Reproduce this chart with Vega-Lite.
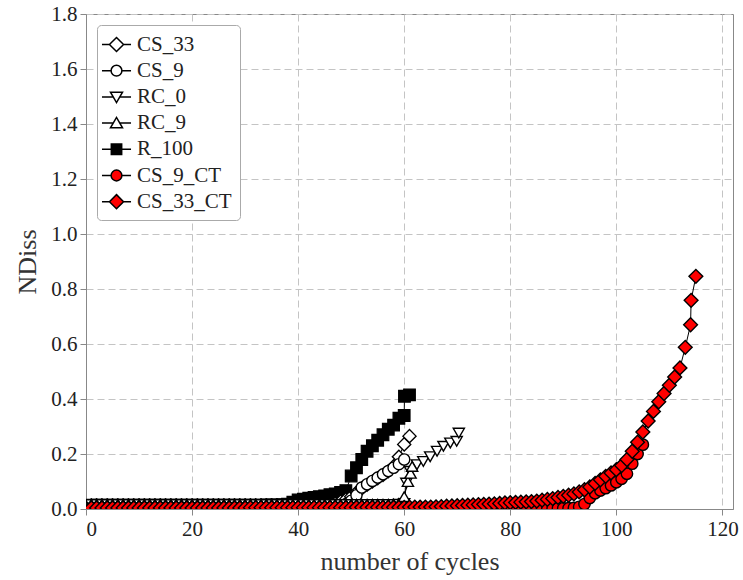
{
"$schema":"https://vega.github.io/schema/vega-lite/v6.json",
"width":647,"height":495,
"autosize":{"type":"none"},
"padding":{"left":86,"top":14,"right":10,"bottom":71},
"background":"white",
"config":{
"view":{"stroke":"#888","strokeWidth":1},
"font":"Liberation Serif",
"axis":{"labelFont":"Liberation Serif","labelFontSize":21,"labelColor":"#222","titleFont":"Liberation Serif","titleFontSize":26,"titleFontWeight":"normal","titleColor":"#333","grid":true,"gridDash":[7,4],"gridColor":"#c4c4c4","gridWidth":1,"domainColor":"#888","tickColor":"#888","tickSize":6,"labelPadding":3},
"legend":{"orient":"top-left","offset":11,"padding":8,"symbolSize":430,"labelFont":"Liberation Serif","labelFontSize":21,"labelColor":"#222","labelOffset":9,"rowPadding":4.2,"fillColor":"white","strokeColor":"#aaa","cornerRadius":4}
},
"data":{"values":[
{"s":"R_100","x":1,"y":0.014},{"s":"R_100","x":2,"y":0.014},{"s":"R_100","x":3,"y":0.014},{"s":"R_100","x":4,"y":0.014},{"s":"R_100","x":5,"y":0.014},{"s":"R_100","x":6,"y":0.014},{"s":"R_100","x":7,"y":0.014},{"s":"R_100","x":8,"y":0.014},{"s":"R_100","x":9,"y":0.014},{"s":"R_100","x":10,"y":0.014},
{"s":"R_100","x":11,"y":0.014},{"s":"R_100","x":12,"y":0.014},{"s":"R_100","x":13,"y":0.014},{"s":"R_100","x":14,"y":0.014},{"s":"R_100","x":15,"y":0.014},{"s":"R_100","x":16,"y":0.014},{"s":"R_100","x":17,"y":0.014},{"s":"R_100","x":18,"y":0.014},{"s":"R_100","x":19,"y":0.014},{"s":"R_100","x":20,"y":0.014},
{"s":"R_100","x":21,"y":0.014},{"s":"R_100","x":22,"y":0.014},{"s":"R_100","x":23,"y":0.014},{"s":"R_100","x":24,"y":0.014},{"s":"R_100","x":25,"y":0.014},{"s":"R_100","x":26,"y":0.014},{"s":"R_100","x":27,"y":0.014},{"s":"R_100","x":28,"y":0.014},{"s":"R_100","x":29,"y":0.014},{"s":"R_100","x":30,"y":0.014},
{"s":"R_100","x":31,"y":0.014},{"s":"R_100","x":32,"y":0.014},{"s":"R_100","x":33,"y":0.014},{"s":"R_100","x":34,"y":0.015},{"s":"R_100","x":35,"y":0.015},{"s":"R_100","x":36,"y":0.015},{"s":"R_100","x":37,"y":0.016},{"s":"R_100","x":38,"y":0.018},{"s":"R_100","x":39,"y":0.025},{"s":"R_100","x":40,"y":0.033},
{"s":"R_100","x":41,"y":0.036},{"s":"R_100","x":42,"y":0.039},{"s":"R_100","x":43,"y":0.042},{"s":"R_100","x":44,"y":0.045},{"s":"R_100","x":45,"y":0.048},{"s":"R_100","x":46,"y":0.052},{"s":"R_100","x":47,"y":0.055},{"s":"R_100","x":48,"y":0.06},{"s":"R_100","x":49,"y":0.067},{"s":"R_100","x":50,"y":0.12},
{"s":"R_100","x":51,"y":0.15},{"s":"R_100","x":52,"y":0.18},{"s":"R_100","x":53,"y":0.21},{"s":"R_100","x":54,"y":0.23},{"s":"R_100","x":55,"y":0.25},{"s":"R_100","x":56,"y":0.27},{"s":"R_100","x":57,"y":0.29},{"s":"R_100","x":58,"y":0.305},{"s":"R_100","x":59,"y":0.33},{"s":"R_100","x":60,"y":0.34},
{"s":"R_100","x":60.05,"y":0.41},{"s":"R_100","x":61,"y":0.415},

{"s":"CS_33","x":1,"y":0.013},{"s":"CS_33","x":2,"y":0.013},{"s":"CS_33","x":3,"y":0.013},{"s":"CS_33","x":4,"y":0.013},{"s":"CS_33","x":5,"y":0.013},{"s":"CS_33","x":6,"y":0.013},{"s":"CS_33","x":7,"y":0.013},{"s":"CS_33","x":8,"y":0.013},{"s":"CS_33","x":9,"y":0.013},{"s":"CS_33","x":10,"y":0.013},
{"s":"CS_33","x":11,"y":0.013},{"s":"CS_33","x":12,"y":0.013},{"s":"CS_33","x":13,"y":0.013},{"s":"CS_33","x":14,"y":0.013},{"s":"CS_33","x":15,"y":0.013},{"s":"CS_33","x":16,"y":0.013},{"s":"CS_33","x":17,"y":0.013},{"s":"CS_33","x":18,"y":0.013},{"s":"CS_33","x":19,"y":0.013},{"s":"CS_33","x":20,"y":0.013},
{"s":"CS_33","x":21,"y":0.013},{"s":"CS_33","x":22,"y":0.013},{"s":"CS_33","x":23,"y":0.013},{"s":"CS_33","x":24,"y":0.013},{"s":"CS_33","x":25,"y":0.013},{"s":"CS_33","x":26,"y":0.013},{"s":"CS_33","x":27,"y":0.013},{"s":"CS_33","x":28,"y":0.013},{"s":"CS_33","x":29,"y":0.013},{"s":"CS_33","x":30,"y":0.013},
{"s":"CS_33","x":31,"y":0.013},{"s":"CS_33","x":32,"y":0.013},{"s":"CS_33","x":33,"y":0.013},{"s":"CS_33","x":34,"y":0.013},{"s":"CS_33","x":35,"y":0.013},{"s":"CS_33","x":36,"y":0.013},{"s":"CS_33","x":37,"y":0.013},{"s":"CS_33","x":38,"y":0.013},{"s":"CS_33","x":39,"y":0.013},{"s":"CS_33","x":40,"y":0.013},
{"s":"CS_33","x":41,"y":0.013},{"s":"CS_33","x":42,"y":0.013},{"s":"CS_33","x":43,"y":0.013},{"s":"CS_33","x":44,"y":0.013},{"s":"CS_33","x":45,"y":0.013},{"s":"CS_33","x":46,"y":0.016},{"s":"CS_33","x":47,"y":0.02},{"s":"CS_33","x":48,"y":0.027},{"s":"CS_33","x":49,"y":0.035},{"s":"CS_33","x":50,"y":0.045},
{"s":"CS_33","x":51,"y":0.06},{"s":"CS_33","x":52,"y":0.075},{"s":"CS_33","x":53,"y":0.088},{"s":"CS_33","x":54,"y":0.1},{"s":"CS_33","x":55,"y":0.112},{"s":"CS_33","x":56,"y":0.124},{"s":"CS_33","x":57,"y":0.137},{"s":"CS_33","x":58,"y":0.155},{"s":"CS_33","x":59,"y":0.19},{"s":"CS_33","x":60,"y":0.235},
{"s":"CS_33","x":61,"y":0.265},

{"s":"CS_9","x":1,"y":0.012},{"s":"CS_9","x":2,"y":0.012},{"s":"CS_9","x":3,"y":0.012},{"s":"CS_9","x":4,"y":0.012},{"s":"CS_9","x":5,"y":0.012},{"s":"CS_9","x":6,"y":0.012},{"s":"CS_9","x":7,"y":0.012},{"s":"CS_9","x":8,"y":0.012},{"s":"CS_9","x":9,"y":0.012},{"s":"CS_9","x":10,"y":0.012},
{"s":"CS_9","x":11,"y":0.012},{"s":"CS_9","x":12,"y":0.012},{"s":"CS_9","x":13,"y":0.012},{"s":"CS_9","x":14,"y":0.012},{"s":"CS_9","x":15,"y":0.012},{"s":"CS_9","x":16,"y":0.012},{"s":"CS_9","x":17,"y":0.012},{"s":"CS_9","x":18,"y":0.012},{"s":"CS_9","x":19,"y":0.012},{"s":"CS_9","x":20,"y":0.012},
{"s":"CS_9","x":21,"y":0.012},{"s":"CS_9","x":22,"y":0.012},{"s":"CS_9","x":23,"y":0.012},{"s":"CS_9","x":24,"y":0.012},{"s":"CS_9","x":25,"y":0.012},{"s":"CS_9","x":26,"y":0.012},{"s":"CS_9","x":27,"y":0.012},{"s":"CS_9","x":28,"y":0.012},{"s":"CS_9","x":29,"y":0.012},{"s":"CS_9","x":30,"y":0.012},
{"s":"CS_9","x":31,"y":0.012},{"s":"CS_9","x":32,"y":0.012},{"s":"CS_9","x":33,"y":0.012},{"s":"CS_9","x":34,"y":0.012},{"s":"CS_9","x":35,"y":0.012},{"s":"CS_9","x":36,"y":0.012},{"s":"CS_9","x":37,"y":0.012},{"s":"CS_9","x":38,"y":0.012},{"s":"CS_9","x":39,"y":0.012},{"s":"CS_9","x":40,"y":0.012},
{"s":"CS_9","x":41,"y":0.012},{"s":"CS_9","x":42,"y":0.012},{"s":"CS_9","x":43,"y":0.012},{"s":"CS_9","x":44,"y":0.012},{"s":"CS_9","x":45,"y":0.012},{"s":"CS_9","x":46,"y":0.012},{"s":"CS_9","x":47,"y":0.012},{"s":"CS_9","x":48,"y":0.013},{"s":"CS_9","x":49,"y":0.018},{"s":"CS_9","x":50,"y":0.03},
{"s":"CS_9","x":51,"y":0.05},{"s":"CS_9","x":52,"y":0.078},{"s":"CS_9","x":53,"y":0.09},{"s":"CS_9","x":54,"y":0.102},{"s":"CS_9","x":55,"y":0.114},{"s":"CS_9","x":56,"y":0.126},{"s":"CS_9","x":57,"y":0.138},{"s":"CS_9","x":58,"y":0.15},{"s":"CS_9","x":59,"y":0.163},{"s":"CS_9","x":60,"y":0.18},

{"s":"RC_0","x":1,"y":0.016},{"s":"RC_0","x":2,"y":0.016},{"s":"RC_0","x":3,"y":0.016},{"s":"RC_0","x":4,"y":0.016},{"s":"RC_0","x":5,"y":0.016},{"s":"RC_0","x":6,"y":0.016},{"s":"RC_0","x":7,"y":0.016},{"s":"RC_0","x":8,"y":0.016},{"s":"RC_0","x":9,"y":0.016},{"s":"RC_0","x":10,"y":0.016},
{"s":"RC_0","x":11,"y":0.016},{"s":"RC_0","x":12,"y":0.016},{"s":"RC_0","x":13,"y":0.016},{"s":"RC_0","x":14,"y":0.016},{"s":"RC_0","x":15,"y":0.016},{"s":"RC_0","x":16,"y":0.016},{"s":"RC_0","x":17,"y":0.016},{"s":"RC_0","x":18,"y":0.016},{"s":"RC_0","x":19,"y":0.016},{"s":"RC_0","x":20,"y":0.016},
{"s":"RC_0","x":21,"y":0.016},{"s":"RC_0","x":22,"y":0.016},{"s":"RC_0","x":23,"y":0.016},{"s":"RC_0","x":24,"y":0.016},{"s":"RC_0","x":25,"y":0.016},{"s":"RC_0","x":26,"y":0.016},{"s":"RC_0","x":27,"y":0.016},{"s":"RC_0","x":28,"y":0.016},{"s":"RC_0","x":29,"y":0.016},{"s":"RC_0","x":30,"y":0.016},
{"s":"RC_0","x":31,"y":0.016},{"s":"RC_0","x":32,"y":0.016},{"s":"RC_0","x":33,"y":0.016},{"s":"RC_0","x":34,"y":0.016},{"s":"RC_0","x":35,"y":0.016},{"s":"RC_0","x":36,"y":0.016},{"s":"RC_0","x":37,"y":0.016},{"s":"RC_0","x":38,"y":0.016},{"s":"RC_0","x":39,"y":0.016},{"s":"RC_0","x":40,"y":0.016},
{"s":"RC_0","x":41,"y":0.016},{"s":"RC_0","x":42,"y":0.016},{"s":"RC_0","x":43,"y":0.016},{"s":"RC_0","x":44,"y":0.016},{"s":"RC_0","x":45,"y":0.016},{"s":"RC_0","x":46,"y":0.016},{"s":"RC_0","x":47,"y":0.016},{"s":"RC_0","x":48,"y":0.016},{"s":"RC_0","x":49,"y":0.016},{"s":"RC_0","x":50,"y":0.016},
{"s":"RC_0","x":51,"y":0.016},{"s":"RC_0","x":52,"y":0.016},{"s":"RC_0","x":53,"y":0.016},{"s":"RC_0","x":54,"y":0.016},{"s":"RC_0","x":55,"y":0.016},{"s":"RC_0","x":56,"y":0.016},{"s":"RC_0","x":57,"y":0.016},{"s":"RC_0","x":58,"y":0.016},{"s":"RC_0","x":59,"y":0.017},{"s":"RC_0","x":60,"y":0.02},
{"s":"RC_0","x":60.4,"y":0.094},{"s":"RC_0","x":61.1,"y":0.137},{"s":"RC_0","x":62.4,"y":0.161},{"s":"RC_0","x":63.6,"y":0.173},{"s":"RC_0","x":64.9,"y":0.19},{"s":"RC_0","x":66.2,"y":0.21},{"s":"RC_0","x":67.4,"y":0.228},{"s":"RC_0","x":68.7,"y":0.24},{"s":"RC_0","x":69.9,"y":0.246},{"s":"RC_0","x":70.3,"y":0.276},

{"s":"RC_9","x":1,"y":0.017},{"s":"RC_9","x":2,"y":0.017},{"s":"RC_9","x":3,"y":0.017},{"s":"RC_9","x":4,"y":0.017},{"s":"RC_9","x":5,"y":0.017},{"s":"RC_9","x":6,"y":0.017},{"s":"RC_9","x":7,"y":0.017},{"s":"RC_9","x":8,"y":0.017},{"s":"RC_9","x":9,"y":0.017},{"s":"RC_9","x":10,"y":0.017},
{"s":"RC_9","x":11,"y":0.017},{"s":"RC_9","x":12,"y":0.017},{"s":"RC_9","x":13,"y":0.017},{"s":"RC_9","x":14,"y":0.017},{"s":"RC_9","x":15,"y":0.017},{"s":"RC_9","x":16,"y":0.017},{"s":"RC_9","x":17,"y":0.017},{"s":"RC_9","x":18,"y":0.017},{"s":"RC_9","x":19,"y":0.017},{"s":"RC_9","x":20,"y":0.017},
{"s":"RC_9","x":21,"y":0.017},{"s":"RC_9","x":22,"y":0.017},{"s":"RC_9","x":23,"y":0.017},{"s":"RC_9","x":24,"y":0.017},{"s":"RC_9","x":25,"y":0.017},{"s":"RC_9","x":26,"y":0.017},{"s":"RC_9","x":27,"y":0.017},{"s":"RC_9","x":28,"y":0.017},{"s":"RC_9","x":29,"y":0.017},{"s":"RC_9","x":30,"y":0.017},
{"s":"RC_9","x":31,"y":0.017},{"s":"RC_9","x":32,"y":0.017},{"s":"RC_9","x":33,"y":0.017},{"s":"RC_9","x":34,"y":0.017},{"s":"RC_9","x":35,"y":0.017},{"s":"RC_9","x":36,"y":0.017},{"s":"RC_9","x":37,"y":0.017},{"s":"RC_9","x":38,"y":0.017},{"s":"RC_9","x":39,"y":0.017},{"s":"RC_9","x":40,"y":0.017},
{"s":"RC_9","x":41,"y":0.017},{"s":"RC_9","x":42,"y":0.017},{"s":"RC_9","x":43,"y":0.017},{"s":"RC_9","x":44,"y":0.017},{"s":"RC_9","x":45,"y":0.017},{"s":"RC_9","x":46,"y":0.017},{"s":"RC_9","x":47,"y":0.017},{"s":"RC_9","x":48,"y":0.017},{"s":"RC_9","x":49,"y":0.017},{"s":"RC_9","x":50,"y":0.017},
{"s":"RC_9","x":51,"y":0.017},{"s":"RC_9","x":52,"y":0.017},{"s":"RC_9","x":53,"y":0.017},{"s":"RC_9","x":54,"y":0.017},{"s":"RC_9","x":55,"y":0.017},{"s":"RC_9","x":56,"y":0.017},{"s":"RC_9","x":57,"y":0.017},{"s":"RC_9","x":58,"y":0.018},{"s":"RC_9","x":59,"y":0.02},{"s":"RC_9","x":60,"y":0.045},
{"s":"RC_9","x":60.7,"y":0.1},{"s":"RC_9","x":61.2,"y":0.13},{"s":"RC_9","x":61.5,"y":0.155},

{"s":"CS_9_CT","x":1,"y":0.003},{"s":"CS_9_CT","x":2,"y":0.003},{"s":"CS_9_CT","x":3,"y":0.003},{"s":"CS_9_CT","x":4,"y":0.003},{"s":"CS_9_CT","x":5,"y":0.003},{"s":"CS_9_CT","x":6,"y":0.003},{"s":"CS_9_CT","x":7,"y":0.003},{"s":"CS_9_CT","x":8,"y":0.003},{"s":"CS_9_CT","x":9,"y":0.003},{"s":"CS_9_CT","x":10,"y":0.003},
{"s":"CS_9_CT","x":11,"y":0.003},{"s":"CS_9_CT","x":12,"y":0.003},{"s":"CS_9_CT","x":13,"y":0.003},{"s":"CS_9_CT","x":14,"y":0.003},{"s":"CS_9_CT","x":15,"y":0.003},{"s":"CS_9_CT","x":16,"y":0.003},{"s":"CS_9_CT","x":17,"y":0.003},{"s":"CS_9_CT","x":18,"y":0.003},{"s":"CS_9_CT","x":19,"y":0.003},{"s":"CS_9_CT","x":20,"y":0.003},
{"s":"CS_9_CT","x":21,"y":0.003},{"s":"CS_9_CT","x":22,"y":0.003},{"s":"CS_9_CT","x":23,"y":0.003},{"s":"CS_9_CT","x":24,"y":0.003},{"s":"CS_9_CT","x":25,"y":0.003},{"s":"CS_9_CT","x":26,"y":0.003},{"s":"CS_9_CT","x":27,"y":0.003},{"s":"CS_9_CT","x":28,"y":0.003},{"s":"CS_9_CT","x":29,"y":0.003},{"s":"CS_9_CT","x":30,"y":0.003},
{"s":"CS_9_CT","x":31,"y":0.003},{"s":"CS_9_CT","x":32,"y":0.003},{"s":"CS_9_CT","x":33,"y":0.003},{"s":"CS_9_CT","x":34,"y":0.003},{"s":"CS_9_CT","x":35,"y":0.003},{"s":"CS_9_CT","x":36,"y":0.003},{"s":"CS_9_CT","x":37,"y":0.003},{"s":"CS_9_CT","x":38,"y":0.003},{"s":"CS_9_CT","x":39,"y":0.003},{"s":"CS_9_CT","x":40,"y":0.003},
{"s":"CS_9_CT","x":41,"y":0.003},{"s":"CS_9_CT","x":42,"y":0.003},{"s":"CS_9_CT","x":43,"y":0.003},{"s":"CS_9_CT","x":44,"y":0.003},{"s":"CS_9_CT","x":45,"y":0.003},{"s":"CS_9_CT","x":46,"y":0.003},{"s":"CS_9_CT","x":47,"y":0.003},{"s":"CS_9_CT","x":48,"y":0.003},{"s":"CS_9_CT","x":49,"y":0.003},{"s":"CS_9_CT","x":50,"y":0.003},
{"s":"CS_9_CT","x":51,"y":0.003},{"s":"CS_9_CT","x":52,"y":0.003},{"s":"CS_9_CT","x":53,"y":0.003},{"s":"CS_9_CT","x":54,"y":0.003},{"s":"CS_9_CT","x":55,"y":0.003},{"s":"CS_9_CT","x":56,"y":0.003},{"s":"CS_9_CT","x":57,"y":0.003},{"s":"CS_9_CT","x":58,"y":0.003},{"s":"CS_9_CT","x":59,"y":0.003},{"s":"CS_9_CT","x":60,"y":0.003},
{"s":"CS_9_CT","x":61,"y":0.003},{"s":"CS_9_CT","x":62,"y":0.003},{"s":"CS_9_CT","x":63,"y":0.003},{"s":"CS_9_CT","x":64,"y":0.003},{"s":"CS_9_CT","x":65,"y":0.003},{"s":"CS_9_CT","x":66,"y":0.003},{"s":"CS_9_CT","x":67,"y":0.003},{"s":"CS_9_CT","x":68,"y":0.003},{"s":"CS_9_CT","x":69,"y":0.003},{"s":"CS_9_CT","x":70,"y":0.003},
{"s":"CS_9_CT","x":71,"y":0.003},{"s":"CS_9_CT","x":72,"y":0.003},{"s":"CS_9_CT","x":73,"y":0.003},{"s":"CS_9_CT","x":74,"y":0.003},{"s":"CS_9_CT","x":75,"y":0.003},{"s":"CS_9_CT","x":76,"y":0.003},{"s":"CS_9_CT","x":77,"y":0.003},{"s":"CS_9_CT","x":78,"y":0.003},{"s":"CS_9_CT","x":79,"y":0.003},{"s":"CS_9_CT","x":80,"y":0.003},
{"s":"CS_9_CT","x":81,"y":0.003},{"s":"CS_9_CT","x":82,"y":0.003},{"s":"CS_9_CT","x":83,"y":0.003},{"s":"CS_9_CT","x":84,"y":0.003},{"s":"CS_9_CT","x":85,"y":0.003},{"s":"CS_9_CT","x":86,"y":0.003},{"s":"CS_9_CT","x":87,"y":0.003},{"s":"CS_9_CT","x":88,"y":0.003},{"s":"CS_9_CT","x":89,"y":0.003},{"s":"CS_9_CT","x":90,"y":0.003},
{"s":"CS_9_CT","x":91,"y":0.003},{"s":"CS_9_CT","x":92,"y":0.004},{"s":"CS_9_CT","x":93,"y":0.008},{"s":"CS_9_CT","x":94,"y":0.018},{"s":"CS_9_CT","x":95,"y":0.04},{"s":"CS_9_CT","x":96,"y":0.057},{"s":"CS_9_CT","x":97,"y":0.067},{"s":"CS_9_CT","x":98,"y":0.076},{"s":"CS_9_CT","x":99,"y":0.086},{"s":"CS_9_CT","x":100,"y":0.097},
{"s":"CS_9_CT","x":101,"y":0.11},{"s":"CS_9_CT","x":102,"y":0.128},{"s":"CS_9_CT","x":103,"y":0.165},{"s":"CS_9_CT","x":104,"y":0.2},{"s":"CS_9_CT","x":105,"y":0.234},

{"s":"CS_33_CT","x":1,"y":0.004},{"s":"CS_33_CT","x":2,"y":0.004},{"s":"CS_33_CT","x":3,"y":0.004},{"s":"CS_33_CT","x":4,"y":0.004},{"s":"CS_33_CT","x":5,"y":0.004},{"s":"CS_33_CT","x":6,"y":0.004},{"s":"CS_33_CT","x":7,"y":0.004},{"s":"CS_33_CT","x":8,"y":0.004},{"s":"CS_33_CT","x":9,"y":0.004},{"s":"CS_33_CT","x":10,"y":0.004},
{"s":"CS_33_CT","x":11,"y":0.004},{"s":"CS_33_CT","x":12,"y":0.004},{"s":"CS_33_CT","x":13,"y":0.004},{"s":"CS_33_CT","x":14,"y":0.004},{"s":"CS_33_CT","x":15,"y":0.004},{"s":"CS_33_CT","x":16,"y":0.004},{"s":"CS_33_CT","x":17,"y":0.004},{"s":"CS_33_CT","x":18,"y":0.004},{"s":"CS_33_CT","x":19,"y":0.004},{"s":"CS_33_CT","x":20,"y":0.004},
{"s":"CS_33_CT","x":21,"y":0.004},{"s":"CS_33_CT","x":22,"y":0.004},{"s":"CS_33_CT","x":23,"y":0.004},{"s":"CS_33_CT","x":24,"y":0.004},{"s":"CS_33_CT","x":25,"y":0.004},{"s":"CS_33_CT","x":26,"y":0.004},{"s":"CS_33_CT","x":27,"y":0.004},{"s":"CS_33_CT","x":28,"y":0.004},{"s":"CS_33_CT","x":29,"y":0.004},{"s":"CS_33_CT","x":30,"y":0.004},
{"s":"CS_33_CT","x":31,"y":0.005},{"s":"CS_33_CT","x":32,"y":0.005},{"s":"CS_33_CT","x":33,"y":0.005},{"s":"CS_33_CT","x":34,"y":0.005},{"s":"CS_33_CT","x":35,"y":0.005},{"s":"CS_33_CT","x":36,"y":0.005},{"s":"CS_33_CT","x":37,"y":0.005},{"s":"CS_33_CT","x":38,"y":0.005},{"s":"CS_33_CT","x":39,"y":0.005},{"s":"CS_33_CT","x":40,"y":0.005},
{"s":"CS_33_CT","x":41,"y":0.005},{"s":"CS_33_CT","x":42,"y":0.005},{"s":"CS_33_CT","x":43,"y":0.005},{"s":"CS_33_CT","x":44,"y":0.005},{"s":"CS_33_CT","x":45,"y":0.005},{"s":"CS_33_CT","x":46,"y":0.005},{"s":"CS_33_CT","x":47,"y":0.005},{"s":"CS_33_CT","x":48,"y":0.005},{"s":"CS_33_CT","x":49,"y":0.005},{"s":"CS_33_CT","x":50,"y":0.005},
{"s":"CS_33_CT","x":51,"y":0.006},{"s":"CS_33_CT","x":52,"y":0.006},{"s":"CS_33_CT","x":53,"y":0.006},{"s":"CS_33_CT","x":54,"y":0.006},{"s":"CS_33_CT","x":55,"y":0.006},{"s":"CS_33_CT","x":56,"y":0.006},{"s":"CS_33_CT","x":57,"y":0.006},{"s":"CS_33_CT","x":58,"y":0.006},{"s":"CS_33_CT","x":59,"y":0.006},{"s":"CS_33_CT","x":60,"y":0.006},
{"s":"CS_33_CT","x":61,"y":0.007},{"s":"CS_33_CT","x":62,"y":0.007},{"s":"CS_33_CT","x":63,"y":0.007},{"s":"CS_33_CT","x":64,"y":0.007},{"s":"CS_33_CT","x":65,"y":0.007},{"s":"CS_33_CT","x":66,"y":0.008},{"s":"CS_33_CT","x":67,"y":0.009},{"s":"CS_33_CT","x":68,"y":0.01},{"s":"CS_33_CT","x":69,"y":0.011},{"s":"CS_33_CT","x":70,"y":0.012},
{"s":"CS_33_CT","x":71,"y":0.013},{"s":"CS_33_CT","x":72,"y":0.014},{"s":"CS_33_CT","x":73,"y":0.015},{"s":"CS_33_CT","x":74,"y":0.016},{"s":"CS_33_CT","x":75,"y":0.017},{"s":"CS_33_CT","x":76,"y":0.018},{"s":"CS_33_CT","x":77,"y":0.019},{"s":"CS_33_CT","x":78,"y":0.02},{"s":"CS_33_CT","x":79,"y":0.022},{"s":"CS_33_CT","x":80,"y":0.023},
{"s":"CS_33_CT","x":81,"y":0.024},{"s":"CS_33_CT","x":82,"y":0.025},{"s":"CS_33_CT","x":83,"y":0.026},{"s":"CS_33_CT","x":84,"y":0.027},{"s":"CS_33_CT","x":85,"y":0.029},{"s":"CS_33_CT","x":86,"y":0.032},{"s":"CS_33_CT","x":87,"y":0.035},{"s":"CS_33_CT","x":88,"y":0.038},{"s":"CS_33_CT","x":89,"y":0.042},{"s":"CS_33_CT","x":90,"y":0.046},
{"s":"CS_33_CT","x":91,"y":0.05},{"s":"CS_33_CT","x":92,"y":0.055},{"s":"CS_33_CT","x":93,"y":0.062},{"s":"CS_33_CT","x":94,"y":0.07},{"s":"CS_33_CT","x":95,"y":0.08},{"s":"CS_33_CT","x":96,"y":0.093},{"s":"CS_33_CT","x":97,"y":0.106},{"s":"CS_33_CT","x":98,"y":0.119},{"s":"CS_33_CT","x":99,"y":0.131},{"s":"CS_33_CT","x":100,"y":0.143},
{"s":"CS_33_CT","x":101,"y":0.158},{"s":"CS_33_CT","x":102,"y":0.18},{"s":"CS_33_CT","x":103,"y":0.21},{"s":"CS_33_CT","x":104,"y":0.243},{"s":"CS_33_CT","x":105,"y":0.28},{"s":"CS_33_CT","x":106,"y":0.32},{"s":"CS_33_CT","x":107,"y":0.355},{"s":"CS_33_CT","x":108,"y":0.39},{"s":"CS_33_CT","x":109,"y":0.42},{"s":"CS_33_CT","x":110,"y":0.45},
{"s":"CS_33_CT","x":111,"y":0.48},{"s":"CS_33_CT","x":112,"y":0.513},{"s":"CS_33_CT","x":113,"y":0.588},{"s":"CS_33_CT","x":114,"y":0.67},{"s":"CS_33_CT","x":114.1,"y":0.759},{"s":"CS_33_CT","x":115,"y":0.846}
]},
"encoding":{
"x":{"field":"x","type":"quantitative","scale":{"domain":[0,122],"nice":false,"zero":false},"axis":{"values":[0,20,40,60,80,100,120],"title":"number of cycles","titlePadding":9}},
"y":{"field":"y","type":"quantitative","scale":{"domain":[0,1.8],"nice":false},"axis":{"values":[0,0.2,0.4,0.6,0.8,1.0,1.2,1.4,1.6,1.8],"format":".1f","title":"NDiss","titlePadding":10}}
},
"layer":[
{"mark":{"type":"line","color":"black","strokeWidth":1,"clip":true},"encoding":{"detail":{"field":"s","type":"nominal"}}},
{"transform":[{"filter":"datum.s==='R_100'"}],"mark":{"type":"point","shape":"square","filled":true,"fill":"black","stroke":"black","strokeWidth":1.2,"size":135,"opacity":1,"clip":true}},
{"transform":[{"filter":"datum.s==='CS_33'"}],"mark":{"type":"point","shape":"diamond","filled":true,"fill":"white","stroke":"black","strokeWidth":1.4,"size":170,"opacity":1,"clip":true}},
{"transform":[{"filter":"datum.s==='CS_9'"}],"mark":{"type":"point","shape":"circle","filled":true,"fill":"white","stroke":"black","strokeWidth":1.4,"size":125,"opacity":1,"clip":true}},
{"transform":[{"filter":"datum.s==='RC_0'"}],"mark":{"type":"point","shape":"triangle-down","filled":true,"fill":"white","stroke":"black","strokeWidth":1.4,"size":125,"opacity":1,"clip":true}},
{"transform":[{"filter":"datum.s==='RC_9'"}],"mark":{"type":"point","shape":"triangle-up","filled":true,"fill":"white","stroke":"black","strokeWidth":1.4,"size":125,"opacity":1,"clip":true}},
{"transform":[{"filter":"datum.s==='CS_9_CT'"}],"mark":{"type":"point","shape":"circle","filled":true,"fill":"red","stroke":"black","strokeWidth":1.4,"size":130,"opacity":1,"clip":true}},
{"transform":[{"filter":"datum.s==='CS_33_CT'"}],"mark":{"type":"point","shape":"diamond","filled":true,"fill":"red","stroke":"black","strokeWidth":1.4,"size":190,"opacity":1,"clip":true}},
{"transform":[{"filter":"datum.y < -1"}],"mark":{"type":"point","filled":true,"stroke":"black","strokeWidth":1.2,"opacity":1},
"encoding":{
"shape":{"field":"s","type":"nominal","scale":{"domain":["CS_33","CS_9","RC_0","RC_9","R_100","CS_9_CT","CS_33_CT"],"range":[
"M-1.4,0L-0.68,0M0.68,0L1.4,0M0,-0.68L0.68,0L0,0.68L-0.68,0Z",
"M-1.4,0L-0.52,0M0.52,0L1.4,0M-0.52,0A0.52,0.52,0,1,1,0.52,0A0.52,0.52,0,1,1,-0.52,0Z",
"M-1.4,0L-0.28,0M0.28,0L1.4,0M-0.58,-0.45L0.58,-0.45L0,0.55Z",
"M-1.4,0L-0.28,0M0.28,0L1.4,0M-0.58,0.45L0.58,0.45L0,-0.55Z",
"M-1.4,0L-0.5,0M0.5,0L1.4,0M-0.5,-0.5L0.5,-0.5L0.5,0.5L-0.5,0.5Z",
"M-1.4,0L-0.52,0M0.52,0L1.4,0M-0.52,0A0.52,0.52,0,1,1,0.52,0A0.52,0.52,0,1,1,-0.52,0Z",
"M-1.4,0L-0.68,0M0.68,0L1.4,0M0,-0.68L0.68,0L0,0.68L-0.68,0Z"
]},"legend":{"title":null,"encode":{"symbols":{"update":{"stroke":{"value":"black"},"strokeWidth":{"value":1.3},"opacity":{"value":1}}}}}},
"fill":{"field":"s","type":"nominal","scale":{"domain":["CS_33","CS_9","RC_0","RC_9","R_100","CS_9_CT","CS_33_CT"],"range":["white","white","white","white","black","red","red"]},"legend":{"title":null,"encode":{"symbols":{"update":{"stroke":{"value":"black"},"strokeWidth":{"value":1.3},"opacity":{"value":1}}}}}}
}}
]
}
